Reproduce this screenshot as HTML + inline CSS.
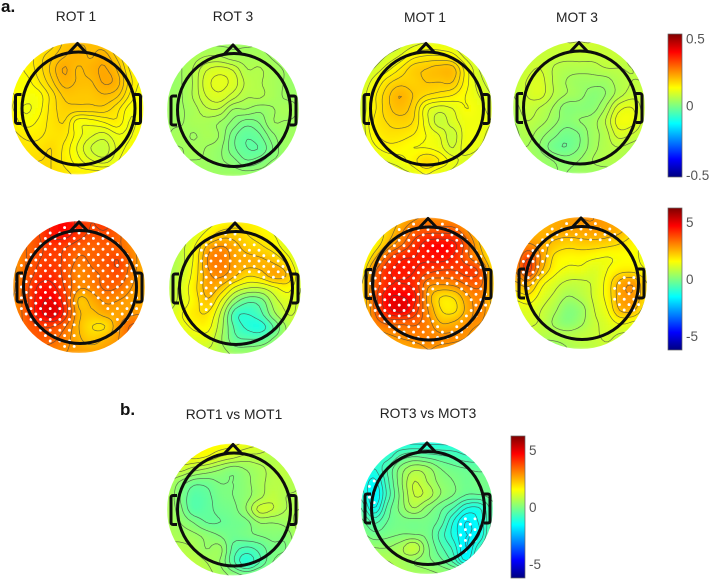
<!DOCTYPE html>
<html lang="en">
<head>
<meta charset="utf-8">
<title>EEG scalp topographies</title>
<style>
html,body{margin:0;padding:0;background:#fff;width:709px;height:580px;overflow:hidden}
svg{display:block;font-family:"Liberation Sans",sans-serif}
</style>
</head>
<body>
<svg id="figure" width="709" height="580" viewBox="0 0 709 580" xmlns="http://www.w3.org/2000/svg">
<defs>
<filter id="mapBlur" x="-10%" y="-10%" width="120%" height="120%"><feGaussianBlur stdDeviation="1.3"/></filter>
<filter id="lineBlur" x="-5%" y="-5%" width="110%" height="110%"><feGaussianBlur stdDeviation="0.3"/></filter>
<filter id="headBlur" x="-5%" y="-5%" width="110%" height="110%"><feGaussianBlur stdDeviation="0.35"/></filter>
</defs>
<text x="1" y="12" font-size="17" font-weight="bold" fill="#111">a.</text>
<text x="120" y="415" font-size="17" font-weight="bold" fill="#111">b.</text>
<text x="76" y="21" font-size="13.8" text-anchor="middle" fill="#222">ROT 1</text>
<text x="233" y="21" font-size="13.8" text-anchor="middle" fill="#222">ROT 3</text>
<text x="425" y="22" font-size="13.8" text-anchor="middle" fill="#222">MOT 1</text>
<text x="577" y="22" font-size="13.8" text-anchor="middle" fill="#222">MOT 3</text>
<text x="234" y="419" font-size="13.8" text-anchor="middle" fill="#222">ROT1 vs MOT1</text>
<text x="428" y="418" font-size="13.8" text-anchor="middle" fill="#222">ROT3 vs MOT3</text>
</svg>
<script>
// Amplitude maps (colour scale +/-0.5); rows run front to back, columns left to right
const rot1Amp = [
[.13,.13,.13,.15,.18,.19,.19,.18,.15,.13,.13],
[.13,.13,.15,.17,.19,.20,.19,.20,.17,.13,.13],
[.12,.13,.15,.18,.21,.19,.20,.21,.19,.14,.12],
[.12,.12,.14,.17,.20,.19,.19,.21,.20,.15,.12],
[.13,.12,.12,.15,.18,.18,.18,.19,.18,.14,.11],
[.13,.11,.12,.15,.17,.17,.17,.17,.15,.12,.12],
[.14,.12,.13,.15,.16,.12,.12,.13,.14,.11,.12],
[.15,.14,.14,.15,.15,.12,.10,.09,.11,.11,.13],
[.16,.15,.15,.16,.14,.11,.08,.07,.10,.12,.14],
[.17,.16,.16,.16,.14,.12,.10,.09,.11,.14,.16],
[.18,.18,.17,.16,.15,.14,.14,.14,.14,.15,.16]];
const rot3Amp = [
[.02,.02,.02,.03,.03,.03,.03,.03,.02,.01,.01],
[.02,.03,.04,.05,.05,.04,.04,.04,.03,.02,.01],
[.02,.03,.05,.08,.09,.08,.05,.05,.04,.03,.02],
[.02,.03,.05,.09,.10,.09,.06,.05,.04,.03,.02],
[.03,.03,.05,.08,.09,.07,.05,.05,.04,.03,.03],
[.03,.03,.04,.06,.06,.03,.03,.02,.03,.04,.03],
[.03,.03,.04,.04,.03,.01,-.01,.00,.03,.03,.03],
[.03,.04,.03,.04,.03,-.01,-.03,-.02,.01,.03,.03],
[.03,.03,.04,.03,.02,-.01,-.03,-.03,.00,.03,.02],
[.02,.03,.03,.03,.02,.01,-.01,.00,.02,.02,.02],
[.02,.02,.03,.03,.03,.03,.03,.03,.03,.02,.02]];
const mot1Amp = [
[.05,.05,.06,.07,.09,.10,.10,.09,.07,.05,.04],
[.05,.06,.08,.10,.13,.14,.14,.13,.09,.06,.05],
[.06,.08,.11,.14,.17,.18,.19,.19,.13,.08,.06],
[.07,.11,.15,.17,.17,.18,.18,.18,.13,.09,.07],
[.08,.13,.17,.20,.18,.16,.15,.14,.12,.10,.08],
[.08,.13,.17,.19,.17,.11,.09,.10,.12,.11,.09],
[.08,.14,.16,.17,.16,.11,.07,.09,.11,.11,.10],
[.08,.13,.15,.15,.14,.12,.10,.07,.11,.11,.09],
[.07,.11,.13,.13,.12,.12,.11,.08,.11,.10,.08],
[.06,.08,.10,.11,.13,.16,.14,.11,.09,.08,.07],
[.05,.07,.08,.09,.10,.12,.10,.09,.07,.06,.05]];
const mot3Amp = [
[.05,.05,.06,.07,.08,.08,.08,.07,.06,.04,.03],
[.04,.06,.07,.07,.07,.07,.07,.07,.07,.05,.04],
[.05,.07,.08,.06,.05,.05,.05,.06,.06,.06,.05],
[.06,.08,.09,.06,.04,.03,.03,.03,.05,.06,.06],
[.06,.08,.09,.06,.04,.03,.01,.02,.05,.07,.07],
[.05,.07,.06,.04,.01,.01,.01,.04,.09,.10,.07],
[.04,.06,.05,.03,.01,.02,.03,.06,.11,.11,.07],
[.03,.05,.03,.01,-.01,.00,.03,.05,.09,.08,.06],
[.03,.04,.02,-.01,-.02,.00,.03,.05,.06,.05,.04],
[.02,.03,.03,.02,.01,.02,.04,.05,.05,.03,.03],
[.00,.01,.01,.02,.02,.03,.03,.03,.03,.02,.01]];
// t-value maps (colour scale +/-6.5)
const rot1T = [
[3.3,3.5,3.9,4.6,4.9,4.3,4.0,4.2,3.6,3.0,2.6],
[3.2,3.5,4.0,4.6,4.7,4.2,3.9,3.9,3.6,3.0,2.7],
[3.0,3.5,3.9,4.2,4.0,3.7,3.6,3.7,3.6,3.1,2.7],
[2.9,3.5,4.0,4.1,3.9,3.4,3.6,3.8,4.0,3.3,2.6],
[2.9,3.6,4.2,4.3,3.8,3.1,3.4,3.6,3.9,3.2,2.6],
[2.9,3.8,4.6,4.6,3.9,3.1,3.2,3.6,3.5,3.0,2.6],
[3.0,3.8,4.8,5.0,4.1,2.4,2.7,3.1,3.0,2.8,2.6],
[3.0,3.8,4.8,5.3,4.2,2.6,2.4,2.7,2.8,2.9,3.0],
[3.2,3.6,4.0,4.0,3.5,2.5,2.0,2.0,2.9,3.6,3.6],
[3.4,3.6,3.7,3.6,3.2,2.6,2.3,2.6,3.0,3.6,3.5],
[3.4,3.5,3.4,3.2,3.0,2.9,2.8,2.9,3.1,3.3,3.2]];
const rot3T = [
[.8,.8,1.0,1.3,1.6,1.8,1.8,1.6,1.0,.6,.4],
[.6,.8,1.2,1.8,2.3,2.3,2.0,1.8,1.5,.8,.5],
[.5,.9,1.6,2.8,3.1,2.7,2.3,2.1,1.8,1.2,.6],
[.5,.9,1.7,3.1,3.3,2.8,2.7,2.6,2.4,1.8,.8],
[.5,1.0,1.8,2.9,3.1,2.6,2.1,2.3,2.8,2.4,1.0],
[.7,1.2,1.9,2.8,2.3,1.4,1.0,1.0,1.4,1.7,1.0],
[.8,1.2,1.8,2.4,1.4,.2,-.4,-.2,.8,1.2,.9],
[1.0,1.5,1.9,1.9,.8,-.8,-1.0,-.6,.4,1.0,.9],
[1.0,1.3,1.6,1.6,.6,-.6,-1.1,-1.2,-.4,.6,.8],
[.8,1.0,1.2,1.2,.5,-.3,-.4,-.3,.2,.7,.7],
[.5,.7,.8,.9,.7,.4,.4,.5,.5,.6,.5]];
const mot1T = [
[2.0,2.1,2.2,2.5,2.9,3.1,3.0,3.0,2.4,1.6,1.2],
[1.2,1.6,2.2,2.9,3.6,3.8,3.8,3.7,3.0,2.0,1.3],
[1.0,1.6,2.6,3.4,4.2,4.7,4.8,4.6,3.6,2.4,1.4],
[1.2,2.4,3.8,4.4,4.5,4.6,4.7,4.4,3.6,2.8,1.6],
[1.6,3.4,4.4,4.6,4.5,4.2,4.0,4.0,4.2,3.8,2.0],
[2.0,3.6,4.4,4.5,4.3,3.2,3.1,3.2,3.6,3.6,2.2],
[2.0,3.8,4.9,5.0,4.6,2.8,2.0,2.1,2.9,3.2,2.2],
[2.0,3.6,4.8,5.2,4.3,3.0,2.0,1.9,2.7,3.2,2.4],
[2.2,3.2,3.6,3.6,3.6,3.2,2.5,2.6,3.0,3.0,2.4],
[2.1,2.6,2.9,3.1,3.2,3.2,3.1,3.1,3.0,2.6,2.2],
[1.8,2.1,2.4,2.6,2.8,3.0,2.9,2.8,2.6,2.2,1.8]];
const mot3T = [
[2.2,2.3,2.4,2.6,2.8,3.0,3.0,2.8,2.6,1.8,1.3],
[2.0,2.4,2.6,2.7,2.8,2.8,2.9,2.8,2.6,2.0,1.5],
[2.6,3.0,2.7,2.4,2.2,2.3,2.3,2.2,2.0,1.7,1.3],
[3.0,3.9,2.9,1.9,1.7,1.7,1.6,1.5,1.6,1.6,1.3],
[3.0,4.2,2.6,1.7,1.4,1.4,1.2,1.5,1.8,1.8,1.5],
[2.4,2.8,1.7,1.2,.9,.9,1.1,1.7,2.7,2.9,2.0],
[1.7,1.9,1.3,.9,.5,.7,1.1,1.7,2.8,2.9,2.0],
[1.1,1.3,1.0,.6,.1,.3,1.0,1.5,2.6,2.6,1.6],
[.9,1.1,.9,.4,.1,.4,.9,1.2,1.6,1.4,1.0],
[.5,.7,.7,.7,.7,.8,.9,1.1,.9,.8,.7],
[.1,.0,-.1,.1,.5,.7,.8,.9,.7,.6,.5]];
const rot1VsMot1 = [
[1.6,1.6,1.7,1.7,1.7,1.6,1.4,1.2,1.0,.9,.8],
[1.4,1.5,1.6,1.5,1.2,1.0,.8,.8,.7,.7,.7],
[.9,1.0,.7,.5,.3,.1,.3,.5,.7,.8,.7],
[.7,.2,-.2,-.2,.0,.0,.2,.5,.7,.7,.6],
[.6,.0,-.5,-.4,-.1,.0,.2,.5,.8,.6,.6],
[.6,.1,-.5,-.4,-.2,-.1,.3,1.0,.9,.6,.6],
[.6,.3,.0,-.3,-.3,-.2,-.1,.3,.3,.4,.7],
[.6,.5,.4,.2,.0,-.2,-.1,.0,.1,.1,.6],
[.6,.7,.6,.3,.4,-.4,-.7,-.5,-.1,.0,.5],
[.7,.8,.8,.6,.3,-.5,-1.1,-.6,.0,.3,.6],
[.7,.8,.8,.7,.5,.2,.0,.2,.4,.6,.7]];
const rot3VsMot3 = [
[-.8,-1.0,-1.2,-1.3,-1.3,-1.3,-1.3,-1.3,-1.2,-.9,-.7],
[-.8,-1.0,-1.1,-.6,-.4,-.5,-.6,-.7,-.9,-.8,-.6],
[-.9,-1.2,-.6,.1,.5,.4,.0,-.2,-.3,-.4,-.3],
[-1.2,-1.6,-.7,.2,.9,.6,.2,.0,-.2,-.1,-.2],
[-1.0,-1.8,-.8,.1,.9,.8,.3,.0,-.3,-.3,-.2],
[-.6,-1.5,-.5,.1,.6,.2,-.2,-.6,-1.2,-1.2,-.4],
[-.2,-.7,-.3,-.1,-.1,-.1,-.4,-1.2,-1.8,-1.4,-.5],
[.1,-.2,-.1,.0,.0,-.1,-.7,-1.3,-1.8,-1.5,-.3],
[.4,.3,.3,.5,.9,.1,-.5,-1.0,-1.8,-.9,-.1],
[.7,.7,.6,.5,.3,.1,-.2,-.7,-1.5,-.4,.2],
[.8,.8,.7,.6,.5,.4,.3,.2,.2,.3,.4]];
const ampTickLabels = ["0.5", "0", "-0.5"];
const ampTickValues = [0.47, 0, -0.485];
const tTickLabels = ["5", "0", "-5"];
const tTickValues = [5.2, 0, -5.2];

const NS = "http://www.w3.org/2000/svg";
const svg = document.getElementById("figure");
const defs = svg.querySelector("defs");

function make(tag, attrs, parent) {
  const el = document.createElementNS(NS, tag);
  for (const k in attrs) el.setAttribute(k, attrs[k]);
  (parent || svg).appendChild(el);
  return el;
}
function jet(t) {
  const c = v => Math.round(255 * Math.max(0, Math.min(1, v)));
  return "rgb(" + c(1.5 - Math.abs(4 * t - 3)) + "," + c(1.5 - Math.abs(4 * t - 2)) + "," + c(1.5 - Math.abs(4 * t - 1)) + ")";
}
function colorScale(v, limit) { return (v + limit) / (2 * limit); }

function cubic(a, b, c, d, t) {
  return 0.5 * (2 * b + (c - a) * t + (2 * a - 5 * b + 4 * c - d) * t * t + (3 * b - a - 3 * c + d) * t * t * t);
}
function sampleGrid(grid, gx, gy) {
  const rows = grid.length, cols = grid[0].length;
  const at = (r, c) => grid[Math.max(0, Math.min(rows - 1, r))][Math.max(0, Math.min(cols - 1, c))];
  const r0 = Math.floor(gy), c0 = Math.floor(gx), ty = gy - r0, tx = gx - c0;
  const vals = [];
  for (let i = -1; i <= 2; i++) {
    vals.push(cubic(at(r0 + i, c0 - 1), at(r0 + i, c0), at(r0 + i, c0 + 1), at(r0 + i, c0 + 2), tx));
  }
  return cubic(vals[0], vals[1], vals[2], vals[3], ty);
}

const DISC_R = 66, FINE = 44;
function drawTopo(name, grid, cx, cy, limit, step, sigLimit) {
  const g = make("g", {});
  
  
  const clipId = "clip-" + name;
  const clip = make("clipPath", { id: clipId }, defs);
  make("circle", { cx: cx, cy: cy, r: DISC_R }, clip);

  const clipped = make("g", { "clip-path": "url(#" + clipId + ")" }, g);
  const cells = make("g", { filter: "url(#mapBlur)" }, clipped);
  
  

  const n = grid.length - 1, cell = 2 * DISC_R / FINE;
  const field = [];
  for (let j = 0; j <= FINE; j++) {
    field.push([]);
    for (let i = 0; i <= FINE; i++) field[j].push(sampleGrid(grid, i / FINE * n, j / FINE * n));
  }
  const x0 = cx - DISC_R, y0 = cy - DISC_R;
  for (let j = 0; j < FINE; j++) {
    for (let i = 0; i < FINE; i++) {
      const v = (field[j][i] + field[j][i + 1] + field[j + 1][i] + field[j + 1][i + 1]) / 4;
      const r = make("rect", { x: x0 + i * cell - .2, y: y0 + j * cell - .2, width: cell + .4, height: cell + .4, fill: jet(colorScale(v, limit)) }, cells);
      
      
    }
  }

  // contour lines via marching squares over the sampled field
  let lo = Infinity, hi = -Infinity;
  field.forEach(row => row.forEach(v => { lo = Math.min(lo, v); hi = Math.max(hi, v); }));
  let d = "";
  for (let lev = Math.ceil(lo / step) * step; lev < hi; lev += step) {
    for (let j = 0; j < FINE; j++) {
      for (let i = 0; i < FINE; i++) {
        const a = field[j][i], b = field[j][i + 1], c = field[j + 1][i + 1], e = field[j + 1][i];
        const pts = [];
        if ((a < lev) !== (b < lev)) pts.push([i + (lev - a) / (b - a), j]);
        if ((b < lev) !== (c < lev)) pts.push([i + 1, j + (lev - b) / (c - b)]);
        if ((e < lev) !== (c < lev)) pts.push([i + (lev - e) / (c - e), j + 1]);
        if ((a < lev) !== (e < lev)) pts.push([i, j + (lev - a) / (e - a)]);
        for (let k = 0; k + 1 < pts.length; k += 2) {
          d += "M" + (x0 + pts[k][0] * cell).toFixed(1) + " " + (y0 + pts[k][1] * cell).toFixed(1) +
               "L" + (x0 + pts[k + 1][0] * cell).toFixed(1) + " " + (y0 + pts[k + 1][1] * cell).toFixed(1);
        }
      }
    }
  }
  const contour = make("path", { d: d, fill: "none", stroke: "#444", "stroke-width": .75, "stroke-opacity": .7, filter: "url(#lineBlur)" }, clipped);
  
  

  // significant electrodes: lattice nodes past the panel's threshold
  if (sigLimit !== null) {
    const dots = make("g", {}, g);
    
    
    const rowPitch = 5.4, colPitch = 9.6;
    for (let ry = -12; ry <= 12; ry++) {
      for (let rx = -7; rx <= 7; rx++) {
        const px = rx * colPitch + (ry % 2 ? colPitch / 2 : 0), py = ry * rowPitch;
        if (Math.hypot(px, py) > DISC_R - 2) continue;
        const v = sampleGrid(grid, (px + DISC_R) / (2 * DISC_R) * n, (py + DISC_R) / (2 * DISC_R) * n);
        if (sigLimit > 0 ? v >= sigLimit : v <= sigLimit) {
          const dot = make("circle", { cx: cx + px, cy: cy + py, r: 1.45, fill: "#fff" }, dots);
          
          
        }
      }
    }
  }

  // head outline
  const hx = cx + 1, hy = cy;
  const head = make("g", { fill: "none", stroke: "#0a0a0a", "stroke-width": 3, "stroke-linejoin": "round", filter: "url(#headBlur)" }, g);
  
  
  make("circle", { cx: hx, cy: hy, r: 56.5 }, head);
  make("path", { d: "M" + (hx - 10) + " " + (hy - 55.5) + "L" + (hx - 1) + " " + (hy - 65) + "L" + (hx + 8) + " " + (hy - 55.5) }, head);
  make("path", { d: "M" + (hx - 57) + " " + (hy - 14) + "h-4a2 2 0 0 0 -2 2v25a2 2 0 0 0 2 2h4" }, head);
  make("path", { d: "M" + (hx + 56) + " " + (hy - 14) + "h4a2 2 0 0 1 2 2v25a2 2 0 0 1 -2 2h-4" }, head);
}

function drawColorbar(name, x, top, bottom, limit, labels, values) {
  const g = make("g", {});
  
  
  const gradId = "grad-" + name;
  const grad = make("linearGradient", { id: gradId, x1: 0, y1: 1, x2: 0, y2: 0 }, defs);
  for (let i = 0; i <= 32; i++) make("stop", { offset: i / 32, "stop-color": jet(i / 32) }, grad);
  make("rect", { x: x, y: top, width: 14, height: bottom - top, fill: "url(#" + gradId + ")", stroke: "#666", "stroke-width": .7 }, g);
  labels.forEach((lab, i) => {
    const y = top + (bottom - top) * (limit - values[i]) / (2 * limit);
    const t = make("text", { x: x + 18, y: y + 5, "font-size": 13.5, fill: "#555" }, g);
    t.textContent = lab;
    
    
  });
}

drawTopo("rot-1-amplitude", rot1Amp, 77.5, 108.5, .5, .016, null);
drawTopo("rot-3-amplitude", rot3Amp, 233, 110, .5, .016, null);
drawTopo("mot-1-amplitude", mot1Amp, 426, 108.5, .5, .02, null);
drawTopo("mot-3-amplitude", mot3Amp, 579, 107.5, .5, .02, null);
drawTopo("rot-1-t-values", rot1T, 79, 287, 6.5, .5, 2.7);
drawTopo("rot-3-t-values", rot3T, 235, 288, 6.5, .5, 2.1);
drawTopo("mot-1-t-values", mot1T, 428, 283.5, 6.5, .5, 2.7);
drawTopo("mot-3-t-values", mot3T, 581, 283, 6.5, .5, 2.3);
drawTopo("rot1-vs-mot1", rot1VsMot1, 233, 509.5, 6.5, .3, null);
drawTopo("rot3-vs-mot3", rot3VsMot3, 427, 508, 6.5, .3, -1.55);

drawColorbar("amplitude-colorbar", 668, 34, 177, .5, ampTickLabels, ampTickValues);
drawColorbar("t-value-colorbar", 668, 208, 350, 6.5, tTickLabels, tTickValues);
drawColorbar("contrast-colorbar", 511, 436, 578, 6.5, tTickLabels, tTickValues);
</script>
</body>
</html>
